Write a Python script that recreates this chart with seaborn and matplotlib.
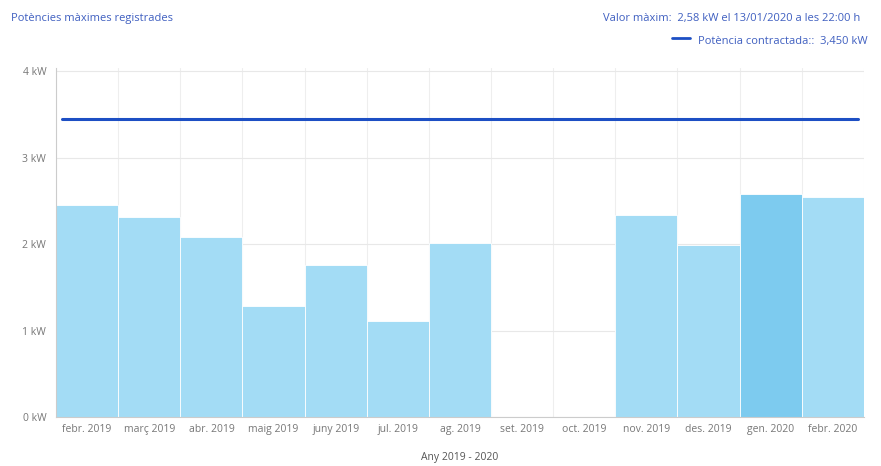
import pandas as pd
import matplotlib.pyplot as plt
import seaborn as sns

months = ['febr. 2019', 'març 2019', 'abr. 2019', 'maig 2019', 'juny 2019', 'jul. 2019',
          'ag. 2019', 'set. 2019', 'oct. 2019', 'nov. 2019', 'des. 2019', 'gen. 2020', 'febr. 2020']
max_power = [2.46, 2.32, 2.08, 1.28, 1.76, 1.11, 2.02, 0, 0, 2.34, 1.99, 2.58, 2.55]
contracted = 3.45
peak_month = 'gen. 2020'
y_ticks = [0, 1, 2, 3, 4]

df = pd.DataFrame({'month': months, 'kw': max_power})
palette = ['#7dcbef' if m == peak_month else '#a3dcf5' for m in months]

sns.set_style('white')
plt.rcParams['font.family'] = ['Open Sans', 'DejaVu Sans']

fig = plt.figure(figsize=(8.81, 4.66), dpi=100)
ax = fig.add_axes([0.0636, 0.105, 0.917, 0.749])

# vertical grid at category edges
for i in range(len(months) + 1):
    ax.axvline(i - 0.5, color='#eeeeee', lw=0.8, zorder=0)
for t in y_ticks:
    ax.axhline(t, color='#e8e8e8', lw=0.8, zorder=0)

sns.barplot(data=df, x='month', y='kw', hue='month', palette=palette, legend=False,
            saturation=1, width=1.0, edgecolor='white', linewidth=0.6, ax=ax, zorder=2)

ax.plot([-0.4, len(months) - 1 + 0.4], [contracted, contracted], color='#1d4fc4', lw=2.2, zorder=3)

ax.set_xlim(-0.5, len(months) - 0.5)
ax.set_ylim(0, 4.04)
ax.set_yticks(y_ticks)
ax.set_yticklabels([f'{t} kW' for t in y_ticks], color='#777777', fontsize=7.5)
ax.tick_params(axis='x', colors='#777777', labelsize=7.5, length=0, pad=5)
ax.tick_params(axis='y', length=4, color='#cccccc', pad=3)
ax.set_xlabel('Any 2019 - 2020', color='#555555', fontsize=7.5, labelpad=12)
ax.set_ylabel('')

for s in ['top', 'right']:
    ax.spines[s].set_visible(False)
ax.spines['left'].set_color('#cccccc')
ax.spines['bottom'].set_color('#cccccc')

fig.text(0.012, 0.955, 'Potències màximes registrades', color='#3f5fc0', fontsize=8)
fig.text(0.977, 0.955, 'Valor màxim:  2,58 kW el 13/01/2020 a les 22:00 h', color='#3f5fc0',
         fontsize=8, ha='right')
fig.text(0.985, 0.905, 'Potència contractada::  3,450 kW', color='#3f5fc0', fontsize=8, ha='right')
fig.lines.append(plt.Line2D([0.763, 0.783], [0.918, 0.918], transform=fig.transFigure,
                            color='#1d4fc4', lw=2))

fig.savefig('out.png', dpi=100)
